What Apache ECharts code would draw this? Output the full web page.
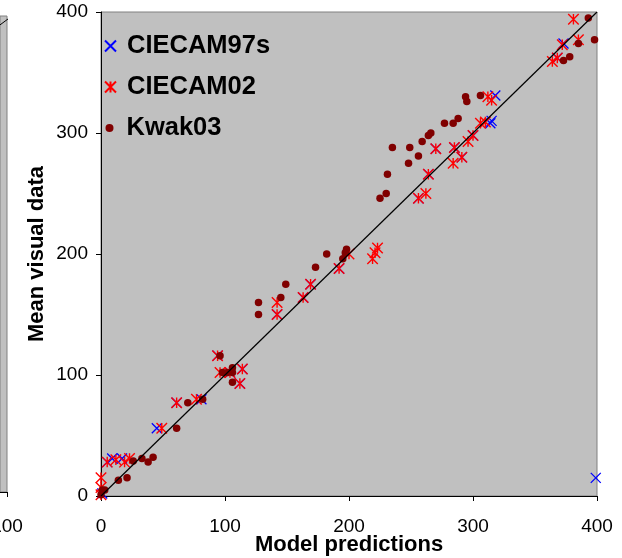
<!DOCTYPE html>
<html>
<head>
<meta charset="utf-8">
<script src="https://cdn.jsdelivr.net/npm/echarts@6/dist/echarts.min.js"></script>
<style>
  html, body { margin: 0; padding: 0; background: #fff; }
  #chart { width: 622px; height: 558px; }
</style>
</head>
<body>
<div id="chart"></div>
<script>
// Model predictions (x) against mean visual data (y)
const axisTicks = [0, 100, 200, 300, 400];

const ciecam97s = [
  [399, 15], [373, 374], [368, 362], [318, 331], [314, 308], [315, 310],
  [300, 298], [291, 280], [285, 288], [270, 287], [264, 266], [256, 246],
  [192, 188], [169, 175], [163, 164], [142, 150], [114, 105], [112, 93],
  [104, 102], [94, 116], [81, 80], [61, 77], [45, 56], [5, 28], [9, 31],
  [17, 31], [1, 2]
];

const ciecam02 = [
  [381, 394], [372, 373], [385, 377], [368, 362], [364, 359], [312, 330],
  [315, 327], [306, 308], [310, 309], [300, 298], [296, 293], [291, 280],
  [285, 288], [284, 275], [270, 287], [264, 266], [262, 250], [256, 246],
  [223, 205], [221, 201], [219, 196], [200, 200], [192, 188], [169, 175],
  [163, 164], [142, 160], [142, 150], [114, 105], [112, 93], [104, 102],
  [96, 102], [94, 116], [77, 80], [61, 77], [49, 56], [5, 28], [12, 30],
  [19, 28], [23, 31], [0, 15], [0, 7], [0, 1]
];

const kwak03 = [
  [393, 395], [398, 377], [385, 374], [378, 363], [373, 360], [306, 331],
  [294, 330], [295, 326], [288, 312], [284, 308], [277, 308], [266, 300],
  [264, 298], [259, 293], [249, 288], [235, 288], [256, 281], [248, 275],
  [231, 266], [230, 250], [225, 246], [198, 204], [197, 201], [195, 196],
  [182, 200], [173, 189], [149, 175], [145, 164], [127, 160], [127, 150],
  [96, 116], [98, 102], [102, 102], [106, 106], [106, 102], [106, 94],
  [70, 77], [82, 80], [61, 56], [33, 31], [38, 28], [42, 32], [26, 29],
  [14, 13], [21, 15], [1, 5], [3, 5], [0, 1]
];

// y = x reference line
const identityLine = [[0, 0], [400, 400]];

// visible sliver of the neighbouring panel on the left
const neighbourRange = [98.6, 100];
const neighbourYRange = [0, 100];
const neighbourLine = [[96, 96.1], [101, 100]];

const FONT = "'Liberation Sans', Arial, Helvetica, sans-serif";
const CROSS = 'path://M0,0L10,10M10,0L0,10';
const ASTERISK = 'path://M0,0L10,10M10,0L0,10M5,0L5,10';

const chart = echarts.init(document.getElementById('chart'), null, { renderer: 'canvas' });

function legendText(pad) {
  return {
    fontFamily: FONT, fontSize: 25.5, fontWeight: 'bold', color: '#000',
    lineHeight: 25, padding: [0, 0, 0, pad]
  };
}

chart.setOption({
  animation: false,
  backgroundColor: '#ffffff',
  grid: [
    { left: 101, top: 12, right: 25, bottom: 62, show: true, outerBoundsMode: 'none',
      containLabel: false,
      backgroundColor: '#c0c0c0', borderColor: '#808080', borderWidth: 1 },
    { left: 0, top: 16, width: 7, height: 476, show: true, outerBoundsMode: 'none',
      containLabel: false,
      backgroundColor: '#c0c0c0', borderColor: '#808080', borderWidth: 1 }
  ],
  legend: [
    { data: ['CIECAM97s', 'CIECAM02'], orient: 'vertical', left: 99, top: 28,
      itemWidth: 11, itemHeight: 11, itemGap: 15, textStyle: legendText(6) },
    { data: ['Kwak03'], orient: 'vertical', left: 100.5, top: 110,
      itemWidth: 8, itemHeight: 8, textStyle: legendText(8) }
  ],
  xAxis: [
    { type: 'value', gridIndex: 0, min: axisTicks[0], max: axisTicks[axisTicks.length - 1],
      interval: axisTicks[1] - axisTicks[0],
      name: 'Model predictions', nameLocation: 'middle', nameGap: 38, nameMoveOverlap: false,
      nameTextStyle: { fontFamily: FONT, fontSize: 22, fontWeight: 'bold', color: '#000' },
      axisLine: { show: true, lineStyle: { color: '#000', width: 1 } },
      axisTick: { show: true, length: 5, lineStyle: { color: '#000' } },
      axisLabel: { margin: 21, fontFamily: FONT, fontSize: 19, color: '#000' },
      splitLine: { show: false } },
    { type: 'value', gridIndex: 1, min: neighbourRange[0], max: neighbourRange[1],
      interval: neighbourRange[1] - neighbourRange[0],
      axisLine: { show: true, lineStyle: { color: '#000', width: 1 } },
      axisTick: { show: true, length: 5, lineStyle: { color: '#000' } },
      axisLabel: { margin: 25, fontFamily: FONT, fontSize: 19, color: '#000',
        showMinLabel: false, formatter: v => String(Math.round(v)) },
      splitLine: { show: false } }
  ],
  yAxis: [
    { type: 'value', gridIndex: 0, min: axisTicks[0], max: axisTicks[axisTicks.length - 1],
      interval: axisTicks[1] - axisTicks[0],
      name: 'Mean visual data', nameLocation: 'middle', nameGap: 53, nameMoveOverlap: false,
      nameTextStyle: { fontFamily: FONT, fontSize: 22, fontWeight: 'bold', color: '#000' },
      axisLine: { show: true, lineStyle: { color: '#000', width: 1 } },
      axisTick: { show: true, length: 5, lineStyle: { color: '#000' } },
      axisLabel: { margin: 13, fontFamily: FONT, fontSize: 19, color: '#000' },
      splitLine: { show: false } },
    { type: 'value', gridIndex: 1, min: neighbourYRange[0], max: neighbourYRange[1],
      axisLine: { show: false }, axisTick: { show: false },
      axisLabel: { show: false }, splitLine: { show: false } }
  ],
  series: [
    { name: 'identity', type: 'line', xAxisIndex: 0, yAxisIndex: 0,
      data: identityLine, symbol: 'none', silent: true,
      lineStyle: { color: '#000', width: 1.2 } },
    { name: 'neighbour', type: 'line', xAxisIndex: 1, yAxisIndex: 1,
      data: neighbourLine, symbol: 'none', silent: true, clip: false,
      lineStyle: { color: '#000', width: 1 } },
    { name: 'CIECAM97s', type: 'scatter', xAxisIndex: 0, yAxisIndex: 0,
      data: ciecam97s, symbol: CROSS, symbolSize: 10,
      itemStyle: { color: 'transparent', borderColor: '#0000ff', borderWidth: 1.3, opacity: 1 } },
    { name: 'CIECAM02', type: 'scatter', xAxisIndex: 0, yAxisIndex: 0,
      data: ciecam02, symbol: ASTERISK, symbolSize: 10.5,
      itemStyle: { color: 'transparent', borderColor: '#ff0000', borderWidth: 1.4, opacity: 1 } },
    { name: 'Kwak03', type: 'scatter', xAxisIndex: 0, yAxisIndex: 0,
      data: kwak03, symbol: 'circle', symbolSize: 7.5,
      itemStyle: { color: '#800000', opacity: 1 } }
  ]
});
</script>
</body>
</html>
